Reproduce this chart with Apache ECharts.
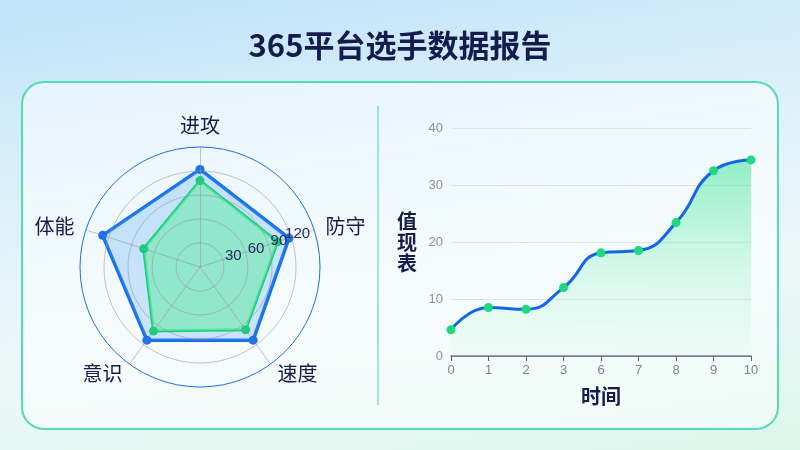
<!DOCTYPE html>
<html><head><meta charset="utf-8">
<script src="https://cdn.jsdelivr.net/npm/echarts@6/dist/echarts.min.js"></script>
<style>
html,body{margin:0;padding:0;}
#c{width:800px;height:450px;background:linear-gradient(172deg,#bfe3f8 0%,#dcf0fa 35%,#ecf8f8 65%,#dcf7ec 100%);}
</style></head>
<body><div id="c"></div>
<script>
const titleText = '365平台选手数据报告';
// radar (counter-clockwise from top)
const radarNames = ['进攻', '体能', '意识', '速度', '防守'];
const radarMax = 150;
const blueValues = [122, 128, 113, 113, 117];
const greenValues = [108, 74, 99, 97, 102];
// line
const timeCats = ['0', '1', '2', '3', '6', '7', '8', '9', '10'];
const lineValues = [4.6, 8.5, 8.2, 12.0, 18.1, 18.5, 23.4, 32.5, 34.4];
const yName = '值现表';
const xName = '时间';

const chart = echarts.init(document.getElementById('c'));
const navy = '#161b4d';
chart.setOption({
  backgroundColor: 'transparent',
  title: {text: titleText, left: 'center', top: 25, textStyle: {fontSize: 31, fontWeight: 'bold', color: navy, fontFamily: 'Noto Sans CJK SC'}},
  graphic: [
    {type: 'rect', shape: {x: 22, y: 82, width: 756, height: 347, r: 22}, style: {fill: 'rgba(255,255,255,0.5)', stroke: '#55dbb6', lineWidth: 2}, z: -10},
    {type: 'line', shape: {x1: 378, y1: 106, x2: 378, y2: 405}, style: {stroke: '#7fe2c4', lineWidth: 1.5}, z: -10}
  ],
  radar: {
    z: 3,
    center: [200, 267],
    radius: 120,
    splitNumber: 5,
    shape: 'circle',
    nameGap: 12,
    axisName: {color: navy, fontSize: 20, fontFamily: 'Noto Sans CJK SC'},
    splitArea: {show: false},
    splitLine: {lineStyle: {color: ['rgba(150,150,150,0.55)', 'rgba(150,150,150,0.55)', 'rgba(150,150,150,0.55)', 'rgba(150,150,150,0.55)', 'rgba(150,150,150,0.55)', '#1f6fe0'], width: 1}},
    axisLine: {lineStyle: {color: 'rgba(150,150,150,0.55)'}},
    axisLabel: {show: false},
    indicator: radarNames.map((n, i) => ({
      name: n, max: radarMax, min: 0,
      axisLabel: i === 4 ? {
        show: true, showMinLabel: false, showMaxLabel: false,
        margin: 4, align: 'left',
        formatter: v => '{v|' + v + '}',
        rich: {v: {width: 20, align: 'right', color: '#252b5c', fontSize: 15}}
      } : {show: false}
    }))
  },
  grid: {left: 451, right: 49, top: 128, bottom: 94},
  xAxis: {
    type: 'category', data: timeCats, boundaryGap: false,
    name: xName, nameLocation: 'middle', nameGap: 30,
    nameTextStyle: {color: navy, fontSize: 20, fontWeight: 'bold', fontFamily: 'Noto Sans CJK SC'},
    axisLine: {lineStyle: {color: '#5a5f78', width: 1.5}},
    axisTick: {show: true, lineStyle: {color: '#5a5f78'}},
    axisLabel: {color: '#7a7f9a', fontSize: 13}
  },
  yAxis: {
    type: 'value', min: 0, max: 40, interval: 10,
    name: yName.split('').join('\n'), nameLocation: 'middle', nameGap: 34, nameRotate: 0,
    nameTextStyle: {color: navy, fontSize: 20, fontWeight: 'bold', lineHeight: 21, fontFamily: 'Noto Sans CJK SC'},
    axisLine: {show: false}, axisTick: {show: false},
    axisLabel: {color: '#8a8fa8', fontSize: 13},
    splitLine: {lineStyle: {color: '#dde2ee'}}
  },
  series: [
    {
      type: 'radar', symbol: 'circle', symbolSize: 9, z: 2,
      data: [
        {value: blueValues, lineStyle: {color: '#1670ee', width: 3.5}, itemStyle: {color: '#1670ee'}, areaStyle: {color: 'rgba(80,160,242,0.38)'}},
        {value: greenValues, lineStyle: {color: '#19cf7c', width: 3}, itemStyle: {color: '#19cf7c'}, areaStyle: {color: 'rgba(118,234,178,0.95)'}}
      ]
    },
    {
      type: 'line', data: lineValues, smooth: true,
      symbol: 'circle', symbolSize: 9,
      lineStyle: {color: '#1566e6', width: 3},
      itemStyle: {color: '#1fd97f'},
      areaStyle: {color: new echarts.graphic.LinearGradient(0, 0, 0, 1, [
        {offset: 0, color: 'rgba(80,230,160,0.85)'},
        {offset: 1, color: 'rgba(220,250,240,0.3)'}
      ])}
    }
  ]
});
</script></body></html>
